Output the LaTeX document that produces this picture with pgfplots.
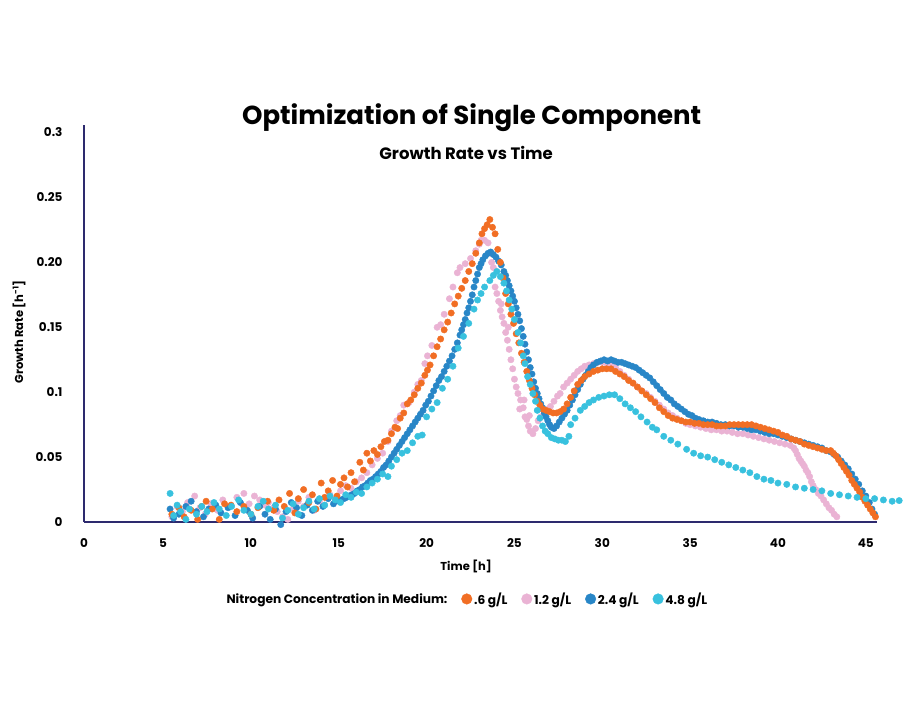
\documentclass[border=0pt]{standalone}
\usepackage{fontspec}
\setmainfont{Poppins}
\usepackage{pgfplots}
\usepackage{pgfplotstable}
\pgfplotsset{compat=1.18}
\definecolor{cOrange}{RGB}{241,110,36}
\definecolor{cPink}{RGB}{234,179,212}
\definecolor{cBlue}{RGB}{40,134,199}
\definecolor{cCyan}{RGB}{56,193,222}
\definecolor{cAxis}{RGB}{45,42,110}

\pgfplotstableread{
x y
5.4 0.010
5.6 0.003
5.9 0.006
6.3 0.012
6.6 0.016
6.9 0.008
7.3 0.004
7.6 0.010
8.0 0.013
8.3 0.007
8.7 0.011
9.1 0.005
9.4 0.015
9.8 0.009
10.1 0.003
10.5 0.012
10.8 0.006
11.1 0.002
11.4 0.010
11.7 -0.002
12.0 0.008
12.3 0.015
12.6 0.011
12.9 0.005
13.2 0.013
13.5 0.009
13.8 0.016
14.1 0.012
14.4 0.018
14.7 0.014
15.0 0.016
15.15 0.017
15.3 0.018
15.45 0.019
15.6 0.020
15.75 0.021
15.9 0.022
16.05 0.024
16.2 0.025
16.35 0.027
16.5 0.028
16.65 0.030
16.8 0.032
16.95 0.033
17.1 0.035
17.25 0.037
17.4 0.039
17.55 0.042
17.7 0.044
17.85 0.047
18.0 0.050
18.15 0.053
18.3 0.056
18.45 0.059
18.6 0.062
18.75 0.065
18.9 0.068
19.05 0.071
19.2 0.074
19.35 0.077
19.5 0.080
19.65 0.083
19.8 0.086
19.95 0.090
20.1 0.093
20.25 0.097
20.4 0.101
20.55 0.105
20.7 0.109
20.85 0.112
21.0 0.116
21.15 0.120
21.3 0.124
21.45 0.128
21.6 0.133
21.75 0.138
21.9 0.144
22.0 0.148
22.1 0.152
22.2 0.156
22.3 0.161
22.4 0.165
22.5 0.170
22.6 0.175
22.7 0.181
22.8 0.186
22.9 0.191
23.0 0.196
23.1 0.199
23.2 0.202
23.35 0.205
23.5 0.207
23.65 0.208
23.8 0.206
23.95 0.204
24.1 0.201
24.25 0.198
24.4 0.193
24.5 0.190
24.6 0.186
24.7 0.182
24.8 0.178
24.9 0.174
25.0 0.170
25.1 0.165
25.2 0.160
25.3 0.155
25.4 0.149
25.5 0.143
25.6 0.137
25.7 0.131
25.8 0.125
25.9 0.119
26.0 0.114
26.1 0.108
26.2 0.103
26.3 0.099
26.4 0.095
26.5 0.091
26.6 0.088
26.7 0.084
26.8 0.081
26.9 0.078
27.0 0.075
27.1 0.073
27.25 0.072
27.4 0.074
27.55 0.077
27.7 0.080
27.85 0.083
28.0 0.086
28.15 0.090
28.3 0.094
28.45 0.098
28.6 0.102
28.75 0.106
28.9 0.110
29.05 0.113
29.2 0.116
29.35 0.119
29.5 0.121
29.7 0.123
29.9 0.124
30.1 0.125
30.3 0.124
30.5 0.125
30.7 0.124
30.9 0.123
31.1 0.123
31.3 0.122
31.5 0.121
31.7 0.120
31.9 0.119
32.1 0.117
32.3 0.115
32.5 0.113
32.7 0.111
32.9 0.108
33.1 0.105
33.3 0.102
33.5 0.099
33.7 0.096
33.9 0.094
34.1 0.091
34.3 0.089
34.5 0.087
34.7 0.085
34.9 0.083
35.1 0.082
35.3 0.080
35.5 0.079
35.75 0.078
36.0 0.077
36.25 0.077
36.5 0.076
36.75 0.075
37.0 0.075
37.25 0.074
37.5 0.074
37.75 0.073
38.0 0.073
38.25 0.072
38.5 0.071
38.75 0.071
39.0 0.070
39.25 0.069
39.5 0.068
39.75 0.068
40.0 0.067
40.25 0.066
40.5 0.065
40.75 0.064
41.0 0.063
41.25 0.062
41.5 0.061
41.75 0.060
42.0 0.059
42.25 0.058
42.5 0.057
42.75 0.055
43.0 0.054
43.2 0.052
43.4 0.050
43.6 0.047
43.8 0.044
44.0 0.041
44.2 0.037
44.4 0.033
44.6 0.029
44.8 0.024
45.0 0.020
45.2 0.015
45.35 0.010
45.5 0.006
}\blueData

\pgfplotstableread{
x y
5.5 0.006
5.9 0.011
6.2 0.004
6.6 0.009
6.97 0.002
7.2 0.012
7.45 0.016
7.8 0.010
8.2 0.002
8.5 0.014
8.87 0.013
9.2 0.008
9.6 0.012
10.0 0.006
10.4 0.011
10.95 0.016
11.3 0.009
11.6 0.017
11.9 0.012
12.2 0.022
12.5 0.007
12.7 0.018
13.0 0.025
13.3 0.015
13.5 0.021
13.7 0.010
14.0 0.030
14.2 0.019
14.4 0.024
14.65 0.032
14.9 0.020
15.1 0.029
15.3 0.034
15.5 0.027
15.7 0.038
15.9 0.031
16.2 0.046
16.4 0.040
16.6 0.053
16.8 0.047
17.0 0.055
17.2 0.052
17.4 0.058
17.6 0.062
17.8 0.063
18.0 0.068
18.2 0.073
18.35 0.072
18.5 0.080
18.7 0.084
18.9 0.091
19.1 0.094
19.3 0.098
19.5 0.103
19.7 0.107
19.9 0.113
20.05 0.117
20.2 0.121
20.4 0.128
20.6 0.135
20.8 0.141
21.0 0.148
21.2 0.154
21.4 0.161
21.6 0.168
21.8 0.174
22.0 0.180
22.2 0.186
22.4 0.193
22.6 0.199
22.8 0.207
23.0 0.215
23.15 0.222
23.3 0.226
23.45 0.229
23.6 0.233
23.75 0.227
23.9 0.222
24.05 0.210
24.2 0.200
24.35 0.188
24.5 0.176
24.65 0.168
24.8 0.160
24.95 0.153
25.1 0.145
25.25 0.138
25.4 0.130
25.55 0.123
25.7 0.116
25.85 0.109
26.0 0.103
26.15 0.098
26.3 0.093
26.45 0.090
26.6 0.087
26.8 0.086
27.0 0.085
27.2 0.084
27.4 0.084
27.6 0.085
27.8 0.087
28.0 0.091
28.2 0.096
28.4 0.101
28.6 0.106
28.8 0.109
29.0 0.112
29.25 0.114
29.5 0.116
29.75 0.117
30.0 0.118
30.25 0.118
30.5 0.118
30.75 0.116
31.0 0.114
31.25 0.112
31.5 0.109
31.75 0.107
32.0 0.104
32.25 0.101
32.5 0.098
32.75 0.095
33.0 0.092
33.25 0.088
33.5 0.085
33.75 0.082
34.0 0.080
34.25 0.079
34.5 0.078
34.75 0.077
35.0 0.077
35.25 0.076
35.5 0.076
35.75 0.075
36.0 0.075
36.25 0.075
36.5 0.074
36.75 0.074
37.0 0.074
37.25 0.075
37.5 0.075
37.75 0.075
38.0 0.075
38.25 0.075
38.5 0.075
38.75 0.074
39.0 0.073
39.25 0.072
39.5 0.071
39.75 0.070
40.0 0.069
40.25 0.067
40.5 0.066
40.75 0.064
41.0 0.063
41.25 0.062
41.5 0.060
41.75 0.059
42.0 0.058
42.25 0.057
42.5 0.056
42.75 0.055
43.0 0.055
43.15 0.053
43.3 0.051
43.45 0.048
43.6 0.045
43.75 0.042
43.9 0.039
44.05 0.036
44.2 0.032
44.35 0.029
44.5 0.026
44.65 0.023
44.8 0.019
44.95 0.016
45.1 0.013
45.25 0.010
45.4 0.007
45.55 0.004
}\orangeData

\pgfplotstableread{
x y
5.5 0.004
5.8 0.012
6.1 0.008
6.4 0.015
6.8 0.020
7.1 0.011
7.4 0.006
7.7 0.014
8.1 0.009
8.4 0.017
8.8 0.012
9.2 0.019
9.6 0.022
9.9 0.014
10.2 0.020
10.5 0.017
10.8 0.013
11.0 0.015
11.3 0.011
11.5 0.008
11.8 0.004
12.1 0.002
12.4 0.010
12.7 0.016
13.0 0.012
13.3 0.019
13.6 0.009
13.9 0.016
14.2 0.013
14.5 0.021
14.8 0.018
15.1 0.024
15.4 0.028
15.7 0.026
16.0 0.031
16.3 0.034
16.6 0.038
16.9 0.044
17.2 0.049
17.5 0.053
17.8 0.062
18.0 0.070
18.3 0.078
18.5 0.082
18.7 0.090
19.0 0.092
19.3 0.100
19.5 0.106
19.7 0.109
19.9 0.122
20.05 0.128
20.3 0.136
20.6 0.150
20.8 0.152
21.0 0.160
21.3 0.172
21.5 0.181
21.75 0.192
21.9 0.196
22.2 0.199
22.5 0.203
22.8 0.209
23.0 0.214
23.1 0.217
23.3 0.217
23.5 0.215
23.65 0.207
23.7 0.200
23.8 0.196
23.9 0.181
24.0 0.176
24.1 0.170
24.2 0.163
24.25 0.168
24.3 0.158
24.4 0.153
24.5 0.146
24.6 0.140
24.65 0.150
24.7 0.133
24.8 0.125
24.9 0.118
25.0 0.110
25.1 0.104
25.2 0.099
25.3 0.087
25.35 0.094
25.5 0.088
25.55 0.094
25.6 0.081
25.7 0.079
25.8 0.074
25.85 0.082
25.9 0.070
26.05 0.068
26.2 0.072
26.35 0.078
26.5 0.081
26.7 0.084
26.9 0.087
27.05 0.089
27.25 0.093
27.45 0.097
27.6 0.099
27.8 0.104
28.0 0.107
28.2 0.110
28.4 0.113
28.6 0.116
28.8 0.118
29.0 0.120
29.25 0.121
29.5 0.122
29.75 0.123
30.0 0.123
30.25 0.122
30.5 0.121
30.75 0.119
31.0 0.116
31.25 0.113
31.5 0.110
31.75 0.107
32.0 0.104
32.25 0.101
32.5 0.099
32.75 0.096
33.0 0.093
33.25 0.090
33.5 0.087
33.75 0.084
34.0 0.082
34.25 0.080
34.5 0.078
34.75 0.076
35.0 0.075
35.3 0.074
35.6 0.073
35.9 0.072
36.2 0.071
36.5 0.071
36.8 0.070
37.1 0.070
37.4 0.069
37.7 0.068
38.0 0.068
38.3 0.067
38.6 0.066
38.9 0.065
39.2 0.064
39.5 0.063
39.8 0.062
40.1 0.061
40.4 0.060
40.7 0.059
40.9 0.057
41.0 0.055
41.1 0.052
41.2 0.049
41.3 0.047
41.4 0.045
41.5 0.043
41.6 0.040
41.7 0.038
41.8 0.035
41.9 0.031
42.0 0.028
42.15 0.025
42.3 0.022
42.45 0.020
42.6 0.017
42.75 0.014
42.9 0.011
43.05 0.009
43.2 0.006
43.35 0.004
}\pinkData

\pgfplotstableread{
x y
5.4 0.022
5.6 0.005
5.8 0.013
6.0 0.008
6.3 0.002
6.5 0.010
6.9 0.006
7.2 0.012
7.5 0.008
7.9 0.015
8.2 0.010
8.6 0.005
8.9 0.012
9.3 0.017
9.6 0.009
10.0 0.006
10.4 0.012
10.7 0.016
11.0 0.010
11.4 0.013
11.8 0.003
12.1 0.009
12.4 0.014
12.7 0.006
13.0 0.011
13.3 0.016
13.6 0.010
13.9 0.018
14.2 0.013
14.5 0.020
14.8 0.017
15.1 0.015
15.4 0.021
15.7 0.019
16.0 0.023
16.3 0.022
16.6 0.027
16.9 0.030
17.2 0.033
17.5 0.037
17.8 0.035
18.0 0.043
18.3 0.048
18.6 0.053
18.9 0.055
19.2 0.061
19.5 0.066
19.75 0.067
20.0 0.081
20.3 0.087
20.6 0.092
20.9 0.103
21.2 0.110
21.5 0.120
21.8 0.134
22.1 0.143
22.4 0.153
22.7 0.164
22.9 0.171
23.1 0.176
23.3 0.181
23.6 0.186
23.8 0.190
24.0 0.193
24.2 0.189
24.4 0.184
24.55 0.178
24.7 0.171
24.85 0.164
25.0 0.156
25.2 0.146
25.35 0.138
25.5 0.128
25.6 0.122
25.75 0.112
25.9 0.106
26.05 0.099
26.2 0.093
26.3 0.086
26.45 0.080
26.6 0.074
26.75 0.070
26.9 0.068
27.1 0.065
27.3 0.064
27.5 0.063
27.7 0.063
27.9 0.062
28.1 0.066
28.2 0.075
28.45 0.080
28.75 0.086
29.0 0.089
29.25 0.092
29.5 0.094
29.8 0.096
30.1 0.097
30.4 0.098
30.7 0.098
31.0 0.095
31.3 0.091
31.6 0.088
31.9 0.085
32.2 0.081
32.55 0.077
32.85 0.073
33.1 0.071
33.5 0.066
33.9 0.063
34.3 0.060
34.8 0.056
35.2 0.053
35.6 0.051
36.0 0.050
36.4 0.048
36.8 0.046
37.2 0.044
37.6 0.042
38.0 0.040
38.4 0.038
38.8 0.035
39.2 0.033
39.6 0.032
40.0 0.030
40.5 0.029
41.0 0.027
41.5 0.026
42.0 0.025
42.5 0.024
43.0 0.022
43.5 0.021
44.0 0.020
44.5 0.019
45.0 0.018
45.5 0.018
46.0 0.017
46.5 0.016
46.9 0.0165
}\cyanData

\begin{document}
\begin{tikzpicture}[x=1pt,y=1pt]
\useasboundingbox (0,0) rectangle (912,712);
\begin{axis}[
  at={(84pt,190pt)}, anchor=south west,
  scale only axis, width=792.7pt, height=396.7pt,
  xmin=0.5, xmax=45.62, ymin=0, ymax=0.3056,
  enlargelimits=false, clip=false,
  axis x line=bottom, axis y line=left,
  axis line style={-, draw=cAxis, line width=1.8pt},
  major tick length=0pt,
  xtick={0.5,5,10,15,20,25,30,35,40,45},
  xticklabels={0,5,10,15,20,25,30,35,40,45},
  ytick={0,0.05,0.1,0.15,0.2,0.25,0.3},
  yticklabels={0,0.05,0.1,0.15,0.20,0.25,0.3},
  tick label style={font=\fontsize{12}{14}\selectfont\bfseries, text=black},
  xticklabel shift=13pt,
  yticklabel shift=18pt,
  xlabel={Time [h]},
  xlabel style={at={(axis description cs:0.482,-0.113)}, anchor=center, font=\fontsize{11.5}{14}\selectfont\bfseries},
  ylabel={Growth Rate [h\textsuperscript{-1}]},
  ylabel style={at={(axis description cs:-0.082,0.479)}, anchor=center, rotate=0, font=\fontsize{11.5}{14}\selectfont\bfseries},
  legend columns=5,
  legend style={draw=none, fill=none, at={(axis description cs:0.483,-0.194)}, anchor=center,
    font=\fontsize{12.2}{14}\selectfont\bfseries,
    /tikz/every even column/.append style={column sep=12pt},
    inner sep=0pt},
  legend image code/.code={\draw[mark repeat=2,mark phase=2,#1] plot coordinates {(0pt,0pt) (5.5pt,0pt) (11pt,0pt)};},
]
\addlegendimage{empty legend}
\addlegendentry{Nitrogen Concentration in Medium:}
\addlegendimage{only marks, mark=*, mark size=5.3pt, color=cOrange}
\addlegendentry{.6 g/L}
\addlegendimage{only marks, mark=*, mark size=5.3pt, color=cPink}
\addlegendentry{1.2 g/L}
\addlegendimage{only marks, mark=*, mark size=5.3pt, color=cBlue}
\addlegendentry{2.4 g/L}
\addlegendimage{only marks, mark=*, mark size=5.3pt, color=cCyan}
\addlegendentry{4.8 g/L}

\addplot[forget plot, only marks, mark=*, mark size=3.2pt, color=cPink] table {\pinkData};
\addplot[forget plot, only marks, mark=*, mark size=3.2pt, color=cBlue] table {\blueData};
\addplot[forget plot, only marks, mark=*, mark size=3.2pt, color=cOrange] table {\orangeData};
\addplot[forget plot, only marks, mark=*, mark size=3.2pt, color=cCyan] table {\cyanData};

\node[font=\fontsize{26}{30}\selectfont\bfseries, anchor=center] at (axis description cs:0.489,1.018) {Optimization of Single Component};
\node[font=\fontsize{16.5}{19}\selectfont\bfseries, anchor=center] at (axis description cs:0.482,0.930) {Growth Rate vs Time};
\end{axis}
\end{tikzpicture}
\end{document}
